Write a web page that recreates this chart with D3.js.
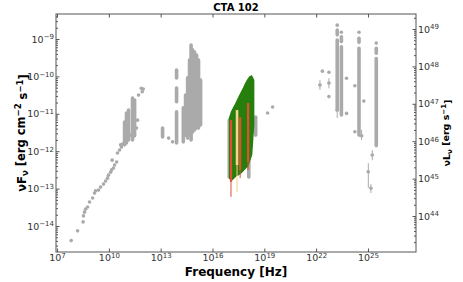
<!DOCTYPE html>
<html>
<head>
<meta charset="utf-8">
<script src="https://cdn.jsdelivr.net/npm/d3@7"></script>
<style>
body { margin: 0; background: #fff; }
text { font-family: "DejaVu Sans", sans-serif; }
</style>
</head>
<body>
<div id="chart"></div>
<script>
// CTA 102 SED. all numbers are log10(nu / Hz) and log10(nuFnu / erg cm^-2 s^-1)
const xTicks = [7, 10, 13, 16, 19, 22, 25];
const yTicks = [-14, -13, -12, -11, -10, -9];
const yRightTicks = [44, 45, 46, 47, 48, 49];
const lumOffset = 57.733;   // log10(4 pi d_L^2)

// single archival points
const grayPoints = [
  [7.82,-14.39],[8.19,-14.13],[8.51,-13.89],[8.53,-13.73],[8.59,-13.63],[8.65,-13.55],
  [8.77,-13.49],[8.88,-13.36],[9.06,-13.25],[9.17,-13.12],[9.23,-13.06],[9.40,-13.04],
  [9.52,-12.96],[9.69,-12.88],[9.81,-12.80],[9.92,-12.72],[9.98,-12.64],[10.10,-12.56],
  [10.16,-12.50],[10.19,-12.24],[10.27,-12.45],[10.33,-12.37],[10.45,-12.29],[10.50,-12.05],
  [10.62,-11.97],[10.73,-11.89],[10.79,-11.81],[10.68,-11.83],[11.26,-11.57],[11.60,-11.38],
  [11.66,-11.17],[11.72,-10.50],[11.88,-10.32],[11.99,-10.34],[11.93,-10.41],
  [13.46,-11.65],[13.69,-11.75],
  [19.19,-10.98],[19.48,-10.82],
  [22.36,-9.86],[22.74,-9.89],[22.74,-10.54],[23.76,-10.05],[23.76,-10.99],[24.24,-10.25],
  [24.24,-11.48],[24.76,-10.66],[23.22,-8.63],[23.46,-8.82],[24.48,-8.82],[25.48,-9.11]
];

// dense runs of archival points: [nu, top, bottom]
const grayColumns = [
  [10.91,-11.22,-11.83],[11.02,-10.98,-11.78],[11.14,-10.90,-11.70],[11.37,-10.58,-11.70],
  [11.49,-10.63,-11.59],[13.11,-11.38,-11.62],
  [13.92,-9.83,-10.04],[13.92,-10.31,-10.68],[13.92,-10.95,-11.78],[14.31,-10.84,-11.75],
  [14.44,-10.50,-11.57],[14.56,-10.04,-11.65],[14.67,-9.56,-11.57],[14.76,-9.16,-11.70],
  [14.85,-9.29,-11.49],[14.96,-9.35,-11.43],[15.08,-9.43,-11.38],[15.19,-9.56,-11.38],
  [15.31,-10.10,-11.30],
  [16.97,-11.17,-12.69],[18.10,-11.97,-12.69],[18.50,-11.09,-11.57],
  [23.22,-8.76,-8.89],[23.22,-9.03,-10.90],[23.46,-8.94,-9.07],[23.46,-9.21,-11.03],
  [24.48,-8.98,-9.09],[24.48,-9.25,-11.57],[25.48,-9.25,-9.38],[25.48,-9.52,-11.85]
];

// gamma points with errors: [nu, flux, top, bottom]
const errPoints = [
  [22.22,-10.23,-10.10,-10.36],[22.74,-10.18,-10.05,-10.32],[24.63,-11.59,-11.43,-11.70],
  [25.25,-12.10,-11.97,-12.24],[25.02,-12.55,-12.32,-12.98],[25.17,-12.99,-12.88,-13.12],
  [23.22,-10.90,-10.90,-11.11]
];

// X-ray spectra
const xrayGreen = [
  [16.99,-11.11,-12.72],[17.10,-10.95,-12.77],[17.22,-10.84,-12.72],[17.34,-10.74,-12.66],
  [17.45,-10.63,-12.64],[17.57,-10.52,-12.61],[17.68,-10.42,-12.56],[17.80,-10.31,-12.50],
  [17.91,-10.20,-12.45],[18.03,-10.10,-12.40],[18.15,-10.02,-12.24],[18.26,-9.99,-12.10],
  [18.38,-10.10,-11.30]
];
// [nu, top, bottom, tail end]
const xrayRed = [[17.07,-11.17,-12.82,-13.22],[17.60,-11.09,-12.50,-12.72],[18.06,-10.71,-12.29,-12.50]];
const xrayBeige = [[17.42,-10.90,-12.37,-13.09]];

const W = 463, H = 282;
const m = {left: 56, right: 47, top: 14, bottom: 30};
const p = v => Math.pow(10, v);

const svg = d3.select("#chart").append("svg")
    .attr("width", W).attr("height", H);

const x = d3.scaleLog().domain([p(6.94), p(27.78)]).range([m.left, W - m.right]);
const y = d3.scaleLog().domain([p(-14.695), p(-8.332)]).range([H - m.bottom, m.top]);
const yR = d3.scaleLog().domain([p(-14.695 + lumOffset), p(-8.332 + lumOffset)]).range([H - m.bottom, m.top]);

const gray = "#aaaaaa";
const plot = svg.append("g");

plot.selectAll(".col").data(grayColumns).enter().append("line")
    .attr("x1", d => x(p(d[0]))).attr("x2", d => x(p(d[0])))
    .attr("y1", d => y(p(d[1]))).attr("y2", d => y(p(d[2])))
    .attr("stroke", gray).attr("stroke-width", 3.6).attr("stroke-linecap", "round");

plot.selectAll(".err").data(errPoints).enter().append("line")
    .attr("x1", d => x(p(d[0]))).attr("x2", d => x(p(d[0])))
    .attr("y1", d => y(p(d[2]))).attr("y2", d => y(p(d[3])))
    .attr("stroke", gray).attr("stroke-width", 1);

plot.selectAll(".errx").data(errPoints).enter().append("line")
    .attr("x1", d => x(p(d[0] - 0.1))).attr("x2", d => x(p(d[0] + 0.1)))
    .attr("y1", d => y(p(d[1]))).attr("y2", d => y(p(d[1])))
    .attr("stroke", gray).attr("stroke-width", 1);

plot.selectAll(".pt").data(grayPoints.concat(errPoints)).enter().append("circle")
    .attr("cx", d => x(p(d[0]))).attr("cy", d => y(p(d[1])))
    .attr("r", 1.8).attr("fill", gray);

const area = d3.area()
    .x(d => x(p(d[0])))
    .y0(d => y(p(d[2])))
    .y1(d => y(p(d[1])));
plot.append("path").datum(xrayGreen)
    .attr("d", area).attr("fill", "#267f0c")
    .attr("stroke", "#267f0c").attr("stroke-width", 1.5);

function spectrum(data, color, w) {
  plot.selectAll(null).data(data).enter().append("line")
      .attr("x1", d => x(p(d[0]))).attr("x2", d => x(p(d[0])))
      .attr("y1", d => y(p(d[2]))).attr("y2", d => y(p(d[3])))
      .attr("stroke", color).attr("stroke-width", 1);
  plot.selectAll(null).data(data).enter().append("line")
      .attr("x1", d => x(p(d[0]))).attr("x2", d => x(p(d[0])))
      .attr("y1", d => y(p(d[1]))).attr("y2", d => y(p(d[2])))
      .attr("stroke", color).attr("stroke-width", w);
}
spectrum(xrayBeige, "#f6d38e", 2.6);
spectrum(xrayRed, "#e0502f", 2.2);

// frame
svg.append("rect")
    .attr("x", m.left).attr("y", m.top)
    .attr("width", W - m.left - m.right).attr("height", H - m.top - m.bottom)
    .attr("fill", "none").attr("stroke", "#555").attr("stroke-width", 1);

function minors(lo, hi) {
  const out = [];
  for (let e = Math.floor(lo); e <= Math.ceil(hi); e++)
    for (let k = 2; k <= 9; k++) {
      const v = Math.log10(k) + e;
      if (v > lo && v < hi) out.push(p(v));
    }
  return out;
}

function sup(sel) {
  sel.selectAll(".tick text").each(function(d) {
    const t = d3.select(this);
    const e = Math.round(Math.log10(d));
    t.text(null);
    t.append("tspan").text("10");
    t.append("tspan").attr("dy", "-0.45em").attr("font-size", 7)
        .text(String(e).replace("-", "\u2212"));
  });
}

function style(g) {
  g.select(".domain").remove();
  g.selectAll(".tick line").attr("stroke", "#555");
  g.selectAll(".tick text").attr("fill", "#333").attr("font-size", 9.5)
      .attr("font-family", "DejaVu Sans");
}

const bottomAxis = svg.append("g").attr("transform", `translate(0,${H - m.bottom})`)
    .call(d3.axisBottom(x).tickValues(xTicks.map(p)).tickSize(-3.5).tickPadding(3));
style(bottomAxis); sup(bottomAxis);
bottomAxis.selectAll(".tick text").attr("dy", "0.66em");

const topAxis = svg.append("g").attr("transform", `translate(0,${m.top})`)
    .call(d3.axisTop(x).tickValues(xTicks.map(p)).tickSize(-3.5).tickFormat(""));
style(topAxis);

const leftAxis = svg.append("g").attr("transform", `translate(${m.left},0)`)
    .call(d3.axisLeft(y).tickValues(yTicks.map(p)).tickSize(-3.5).tickPadding(2));
style(leftAxis); sup(leftAxis);

const leftMinor = svg.append("g").attr("transform", `translate(${m.left},0)`)
    .call(d3.axisLeft(y).tickValues(minors(-14.695, -8.332)).tickSize(-2).tickFormat(""));
style(leftMinor);

const rightAxis = svg.append("g").attr("transform", `translate(${W - m.right},0)`)
    .call(d3.axisRight(yR).tickValues(yRightTicks.map(p)).tickSize(-3.5).tickPadding(2));
style(rightAxis); sup(rightAxis);

const rightMinor = svg.append("g").attr("transform", `translate(${W - m.right},0)`)
    .call(d3.axisRight(yR).tickValues(minors(-14.695 + lumOffset, -8.332 + lumOffset)).tickSize(-2).tickFormat(""));
style(rightMinor);

// labels
svg.append("text").attr("x", (m.left + W - m.right) / 2).attr("y", 11)
    .attr("text-anchor", "middle").attr("font-size", 10).attr("font-weight", "bold")
    .text("CTA 102");

svg.append("text").attr("x", (m.left + W - m.right) / 2).attr("y", 276)
    .attr("text-anchor", "middle").attr("font-size", 12).attr("font-weight", "bold")
    .text("Frequency [Hz]");

const yl = svg.append("text")
    .attr("transform", `translate(26,${(m.top + H - m.bottom) / 2}) rotate(-90)`)
    .attr("text-anchor", "middle").attr("font-size", 11.5).attr("font-weight", "bold");
yl.append("tspan").text("\u03bdF");
yl.append("tspan").attr("font-size", 8.5).attr("dy", "0.25em").text("\u03bd");
yl.append("tspan").attr("dy", "-0.25em").text(" [erg cm");
yl.append("tspan").attr("font-size", 8.5).attr("dy", "-0.45em").text("\u22122");
yl.append("tspan").attr("dy", "0.45em").text(" s");
yl.append("tspan").attr("font-size", 8.5).attr("dy", "-0.45em").text("\u22121");
yl.append("tspan").attr("dy", "0.45em").text("]");

const yr = svg.append("text")
    .attr("transform", `translate(450,${(m.top + H - m.bottom) / 2}) rotate(-90)`)
    .attr("text-anchor", "middle").attr("font-size", 9.5).attr("font-weight", "bold");
yr.append("tspan").text("\u03bdL");
yr.append("tspan").attr("font-size", 7).attr("dy", "0.25em").text("\u03bd");
yr.append("tspan").attr("dy", "-0.25em").text(" [erg s");
yr.append("tspan").attr("font-size", 7).attr("dy", "-0.45em").text("\u22121");
yr.append("tspan").attr("dy", "0.45em").text("]");
</script>
</body>
</html>
